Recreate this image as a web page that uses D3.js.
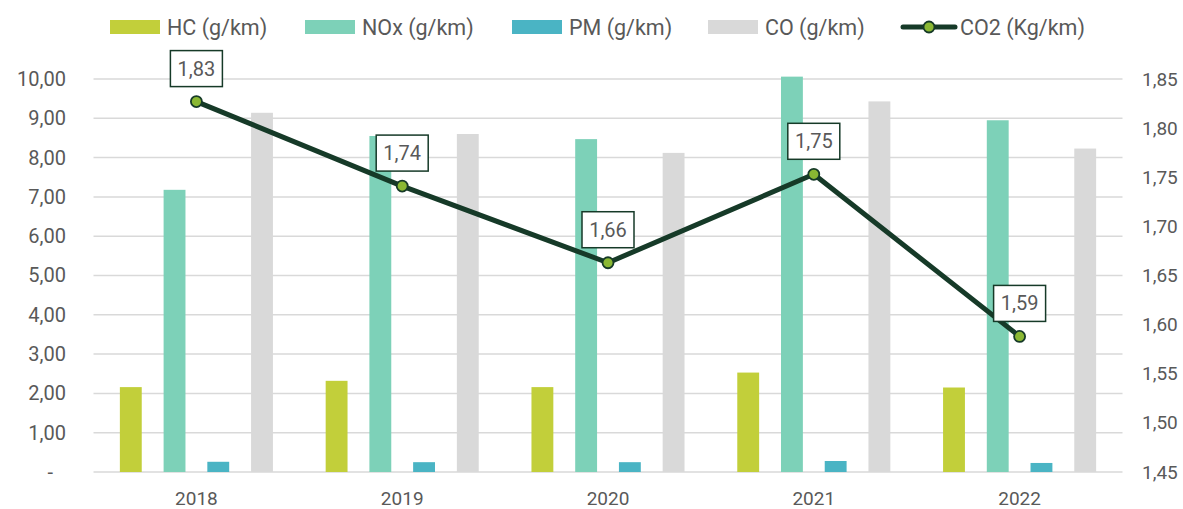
<!DOCTYPE html>
<html>
<head>
<meta charset="utf-8">
<script src="https://cdn.jsdelivr.net/npm/d3@7"></script>
<style>
    body { margin: 0; background: #fff; }
    svg text { font-family: Roboto, "Open Sans", sans-serif; fill: #595959; }
</style>
</head>
<body>
<svg id="chart" width="1183" height="509"></svg>
<script>
// data
var years = ['2018', '2019', '2020', '2021', '2022']
var hc = [2.16, 2.32, 2.16, 2.53, 2.15]
var nox = [7.18, 8.55, 8.47, 10.06, 8.95]
var pm = [0.26, 0.25, 0.25, 0.28, 0.23]
var co = [9.14, 8.60, 8.12, 9.43, 8.23]
var co2 = [1.827, 1.741, 1.663, 1.753, 1.588]
var leftTicks = [0, 1, 2, 3, 4, 5, 6, 7, 8, 9, 10]
var rightTicks = [1.45, 1.50, 1.55, 1.60, 1.65, 1.70, 1.75, 1.80, 1.85]

var barSeries = [
    {key: 'hc', name: 'HC (g/km)', values: hc, color: '#c2cf3a'},
    {key: 'nox', name: 'NOx (g/km)', values: nox, color: '#7dd1b8'},
    {key: 'pm', name: 'PM (g/km)', values: pm, color: '#4ab4c4'},
    {key: 'co', name: 'CO (g/km)', values: co, color: '#d9d9d9'}
]
var lineColor = '#163a28'
var markerColor = '#8ab833'

var locale = d3.formatLocale({decimal: ',', thousands: '.', grouping: [3], currency: ['', '']})
var fmt2 = locale.format('.2f')

var svg = d3.select('#chart')
var plotLeft = 93.5, plotRight = 1122.5, plotTop = 79, plotBottom = 472

var x = d3.scaleBand().domain(years).range([plotLeft, plotRight]).paddingInner(0.15).paddingOuter(0.075)
var xs = d3.scaleBand().domain(barSeries.map(function (s) { return s.key }))
    .range([0, x.bandwidth()]).paddingInner(0.5).paddingOuter(0.25)
var y = d3.scaleLinear().domain([0, 10]).range([plotBottom, plotTop])
var y2 = d3.scaleLinear().domain([1.45, 1.85]).range([plotBottom, plotTop])

// gridlines
svg.append('g').selectAll('line').data(leftTicks).enter().append('line')
    .attr('x1', plotLeft).attr('x2', plotRight)
    .attr('y1', function (d) { return y(d) }).attr('y2', function (d) { return y(d) })
    .attr('stroke', '#d9d9d9').attr('stroke-width', 1.5)

// left axis
var yAxis = d3.axisLeft(y).tickValues(leftTicks).tickSize(0).tickPadding(0)
    .tickFormat(function (d) { return d === 0 ? '-' : fmt2(d) })
var gy = svg.append('g').attr('transform', 'translate(66,0)').call(yAxis)
gy.select('.domain').remove()
gy.selectAll('text').style('font-size', '20px').attr('fill', '#595959')
gy.selectAll('.tick').filter(function (d) { return d === 0 }).select('text').attr('x', -13)

// right axis
var yAxis2 = d3.axisRight(y2).tickValues(rightTicks).tickSize(0).tickPadding(0)
    .tickFormat(fmt2)
var gy2 = svg.append('g').attr('transform', 'translate(1142,0)').call(yAxis2)
gy2.select('.domain').remove()
gy2.selectAll('text').style('font-size', '19px').attr('fill', '#595959')

// x axis
var xAxis = d3.axisBottom(x).tickSize(0).tickPadding(0)
var gx = svg.append('g').attr('transform', 'translate(0,' + plotBottom + ')').call(xAxis)
gx.select('.domain').remove()
gx.selectAll('text').style('font-size', '19px').attr('fill', '#595959').attr('dy', 0).attr('y', 33)

// bars
barSeries.forEach(function (s) {
    svg.append('g').selectAll('rect').data(s.values).enter().append('rect')
        .attr('x', function (d, i) { return x(years[i]) + xs(s.key) })
        .attr('width', xs.bandwidth())
        .attr('y', function (d) { return y(d) })
        .attr('height', function (d) { return y(0) - y(d) })
        .attr('fill', s.color)
})

// co2 line
var line = d3.line()
    .x(function (d, i) { return x(years[i]) + x.bandwidth() / 2 })
    .y(function (d) { return y2(d) })
svg.append('path').datum(co2).attr('d', line)
    .attr('fill', 'none').attr('stroke', lineColor).attr('stroke-width', 5)
    .attr('stroke-linejoin', 'round')
svg.append('g').selectAll('circle').data(co2).enter().append('circle')
    .attr('cx', function (d, i) { return x(years[i]) + x.bandwidth() / 2 })
    .attr('cy', function (d) { return y2(d) })
    .attr('r', 5.5).attr('fill', markerColor).attr('stroke', lineColor).attr('stroke-width', 1.8)

// data labels
var lbl = svg.append('g').selectAll('g').data(co2).enter().append('g')
    .attr('transform', function (d, i) {
        return 'translate(' + (x(years[i]) + x.bandwidth() / 2) + ',' + (y2(d) - 33) + ')'
    })
lbl.append('rect').attr('x', -26).attr('y', -18).attr('width', 52).attr('height', 36)
    .attr('fill', '#fff').attr('stroke', lineColor).attr('stroke-width', 1.5)
lbl.append('text').text(function (d) { return fmt2(d) })
    .attr('text-anchor', 'middle').attr('dy', '0.35em').style('font-size', '20px')

// legend
var legendX = [110, 305, 512, 708]
var lg = svg.append('g').selectAll('g').data(barSeries).enter().append('g')
    .attr('transform', function (d, i) { return 'translate(' + legendX[i] + ',27)' })
lg.append('rect').attr('x', 0).attr('y', -7).attr('width', 50).attr('height', 14)
    .attr('fill', function (d) { return d.color })
lg.append('text').attr('x', 57).attr('dy', '0.35em').style('font-size', '21.5px')
    .text(function (d) { return d.name })

var lgl = svg.append('g').attr('transform', 'translate(903,27)')
lgl.append('line').attr('x1', 0).attr('x2', 52).attr('stroke', lineColor).attr('stroke-width', 5)
    .attr('stroke-linecap', 'round')
lgl.append('circle').attr('cx', 26).attr('r', 5.5).attr('fill', markerColor)
    .attr('stroke', lineColor).attr('stroke-width', 1.8)
lgl.append('text').attr('x', 57).attr('dy', '0.35em').style('font-size', '21.5px')
    .text('CO2 (Kg/km)')
</script>
</body>
</html>
